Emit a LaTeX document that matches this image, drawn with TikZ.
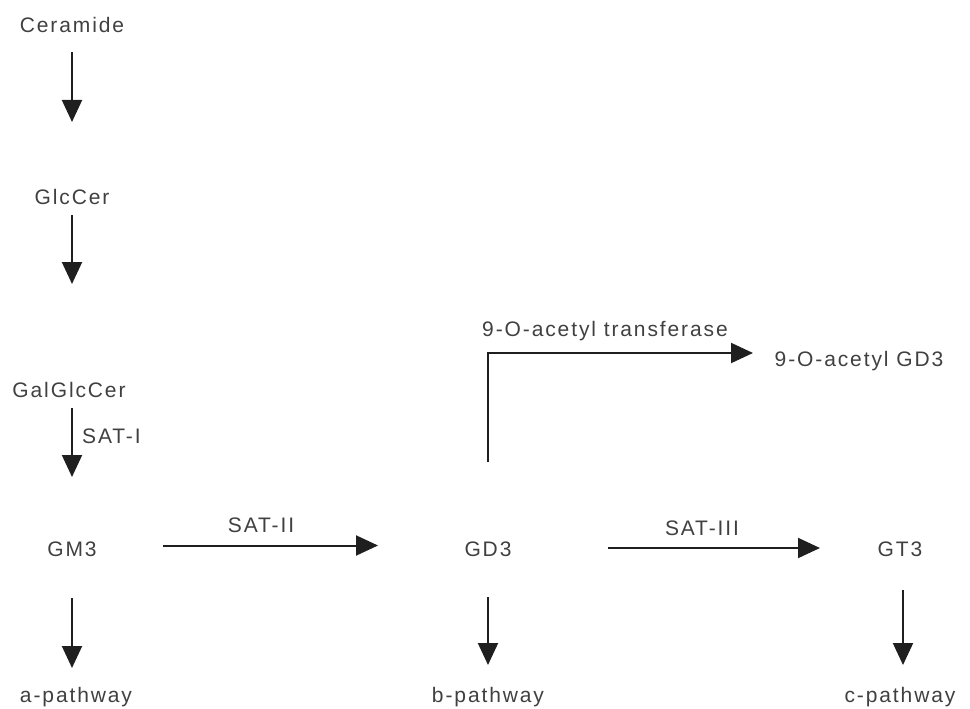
\documentclass[tikz,border=0pt]{standalone}
\usepackage{fontspec}
\setmainfont{Liberation Sans}[LetterSpace=9]
\usetikzlibrary{arrows.meta}

\begin{document}
\begin{tikzpicture}[x=1pt, y=-1pt, every node/.style = {font=\fontsize{21}{25}\selectfont, text=black!75, inner sep=0pt, text height=15pt, text depth=4pt}, flow/.style = {draw=black!88, line width=2pt, -{Triangle[length=22pt, width=20pt]}}]
	\useasboundingbox (0,0) rectangle (970,709);
	\node (cer) at (72,27.5) {Ceramide};
	\node (glc) at (72,198.5) {GlcCer};
	\node (gal) at (69,391.5) {GalGlcCer};
	\node (gm3) at (72,550.5) {GM3};
	\node (apath) at (76,696.5) {a-pathway};
	\node (gd3) at (488,550.5) {GD3};
	\node (bpath) at (488,696.5) {b-pathway};
	\node (gt3) at (900,550.5) {GT3};
	\node (cpath) at (900,696.5) {c-pathway};
	\node (ogd3) at (859,360.5) {9-O-acetyl GD3};
	\node[anchor=west] (sat1) at (82,437.5) {SAT-I};
	\node (sat2) at (261,526.5) {SAT-II};
	\node (sat3) at (702,529.5) {SAT-III};
	\node (oat) at (605,330.5) {9-O-acetyl transferase};
	\draw[flow, shorten <=24.5pt, shorten >=76.5pt] (cer.center) -- (glc.center);
	\draw[flow, shorten <=16.5pt, shorten >=107.5pt] (glc.center) -- (glc.center |- gal.center);
	\draw[flow, shorten <=16.5pt, shorten >=73.5pt] (gal.center -| gm3.center) -- (gm3.center);
	\draw[flow, shorten <=47.5pt, shorten >=28.5pt] (gm3.center) -- (gm3.center |- apath.center);
	\draw[flow, shorten <=46.5pt, shorten >=31.5pt] (gd3.center) -- (bpath.center);
	\draw[flow, shorten <=39.5pt, shorten >=31.5pt] ([xshift=3pt]gt3.center) -- ([xshift=3pt]cpath.center);
	\draw[flow, shorten <=91pt, shorten >=110pt] ([yshift=5pt]gm3.center) -- ([yshift=5pt]gd3.center);
	\draw[flow, shorten <=120pt, shorten >=80pt] ([yshift=2.5pt]gd3.center) -- ([yshift=2.5pt]gt3.center);
	\draw[flow, shorten <=88.5pt, shorten >=106pt] (gd3.center) |- ([yshift=7.5pt]ogd3.center);
\end{tikzpicture}
\end{document}
